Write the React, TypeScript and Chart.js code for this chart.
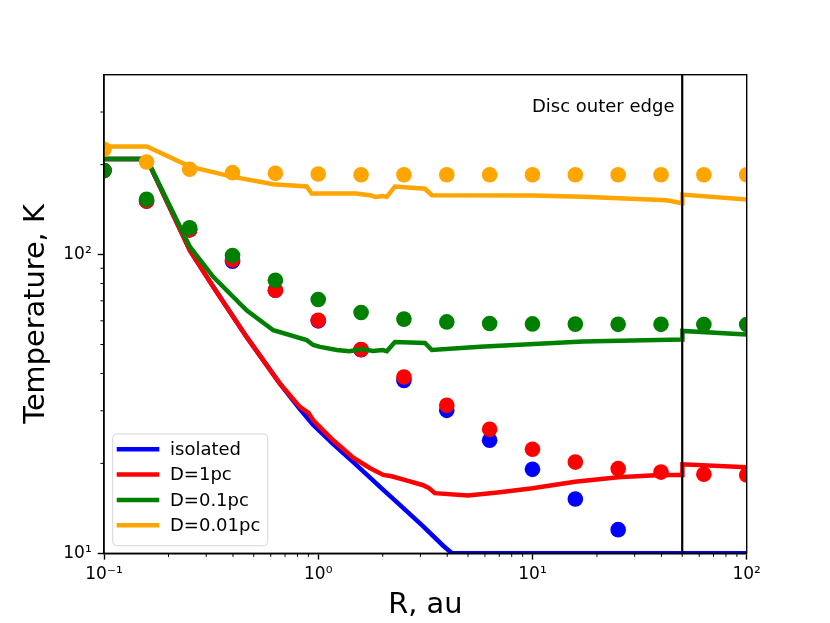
import { useEffect, useRef } from "react";
import { Chart, registerables } from "chart.js";
import type { Plugin } from "chart.js";

Chart.register(...registerables);

const FONT = "'DejaVu Sans', 'Liberation Sans', sans-serif";

// model radii for the dots (au)
const dotR = [0.1, 0.158, 0.251, 0.398, 0.631, 1, 1.585, 2.512, 3.981, 6.31, 10, 15.85, 25.12, 39.81, 63.1, 100];
const isolatedDots = [191, 151, 121, 95, 76, 60, 48, 37.9, 30.1, 23.9, 19.1, 15.2, 12.0, null, null, null];
const d1Dots = [191, 151, 121, 96, 76, 60.3, 48.1, 38.9, 31.3, 26.0, 22.3, 20.2, 19.2, 18.7, 18.4, 18.3];
const d01Dots = [191, 153, 123, 99.2, 82, 70.7, 64.0, 60.8, 59.5, 58.8, 58.6, 58.5, 58.4, 58.4, 58.3, 58.3];
const d001Dots = [225, 204, 193, 188, 187, 186, 185, 185, 185, 185, 185, 185, 185, 185, 185, 185];

// line profiles
const isolatedR = [0.1, 0.1585, 0.252, 0.3235, 0.463, 0.662, 0.821, 0.948, 1.175, 1.457, 2.012, 2.41, 3.09, 3.83, 4.21, 100];
const isolatedT = [209, 209, 103, 78, 53, 37, 30.4, 26.9, 23.2, 20.2, 16.3, 14.5, 12.3, 10.6, 10, 10];

const d1R = [0.1, 0.1585, 0.252, 0.3235, 0.463, 0.662, 0.821, 0.9, 0.948, 1.0, 1.175, 1.457, 1.74, 2.012, 2.2, 2.6, 3.09, 3.3, 3.5, 5.0, 7.05, 10, 15.8, 25.1, 39.4, 49.9, 50.1, 100];
const d1T = [209, 209, 103, 78, 53, 37, 30.9, 29.5, 27.9, 26.8, 23.9, 20.9, 19.3, 18.3, 18.1, 17.5, 16.9, 16.5, 15.9, 15.6, 16.0, 16.5, 17.35, 17.96, 18.3, 18.3, 19.86, 19.4];

const d01R = [0.1, 0.1585, 0.252, 0.3235, 0.463, 0.617, 0.883, 0.948, 1.02, 1.22, 1.4, 1.6, 1.8, 2.0, 2.09, 2.28, 3.15, 3.39, 5.69, 17.2, 49.9, 50.1, 100];
const d01T = [209, 209, 106, 84.2, 65.1, 55.8, 51.7, 49.8, 49.1, 47.9, 47.5, 48.3, 47.6, 47.9, 47.5, 51.0, 50.6, 47.9, 49.1, 51.2, 52.0, 55.5, 54.0];

const d001R = [0.1, 0.1585, 0.252, 0.4, 0.617, 0.883, 0.932, 1.5, 1.74, 1.85, 2.0, 2.09, 2.28, 3.15, 3.39, 10, 17.2, 42.4, 49.9, 50.1, 100];
const d001T = [230, 230, 197, 182, 172, 169, 160, 160, 158, 156, 157, 156, 169, 166, 158, 157.5, 156, 152, 148.6, 158.8, 152.8];

const discR = [50, 50];
const discT = [10, 400];

const seriesLabels = ["isolated", "D=1pc", "D=0.1pc", "D=0.01pc"];
const seriesColors = ["#0000ff", "#ff0000", "#008000", "#ffa500"];

const xTickValues = [0.1, 1, 10, 100];
const xTickLabels = ["10\u207B\u00B9", "10\u2070", "10\u00B9", "10\u00B2"];
const xMinorTicks = [0.2, 0.3, 0.4, 0.5, 0.6, 0.7, 0.8, 0.9, 2, 3, 4, 5, 6, 7, 8, 9, 20, 30, 40, 50, 60, 70, 80, 90];
const yTickValues = [10, 100];
const yTickLabels = ["10\u00B9", "10\u00B2"];
const yMinorTicks = [20, 30, 40, 50, 60, 70, 80, 90, 200, 300];

function pts(xs: number[], ys: (number | null)[]) {
  return xs.map((x, i) => ({ x, y: ys[i] }));
}

const overlay: Plugin = {
  id: "overlay",
  afterDatasetsDraw(chart) {
    const { ctx, chartArea: a, scales } = chart;
    ctx.save();
    ctx.strokeStyle = "#000";
    ctx.lineWidth = 1;
    ctx.beginPath();
    for (const v of xMinorTicks) {
      const px = scales.x.getPixelForValue(v);
      ctx.moveTo(px, a.bottom);
      ctx.lineTo(px, a.bottom + 3.6);
    }
    for (const v of yMinorTicks) {
      const py = scales.y.getPixelForValue(v);
      ctx.moveTo(a.left - 3.6, py);
      ctx.lineTo(a.left, py);
    }
    ctx.stroke();
    ctx.lineWidth = 1.4;
    ctx.strokeRect(a.left, a.top, a.right - a.left, a.bottom - a.top);
    ctx.restore();
  },
  afterDraw(chart) {
    const { ctx, chartArea: a, scales } = chart;
    ctx.save();
    // annotation
    ctx.font = `18px ${FONT}`;
    ctx.fillStyle = "#000";
    ctx.textAlign = "right";
    ctx.textBaseline = "alphabetic";
    ctx.fillText("Disc outer edge", scales.x.getPixelForValue(46), scales.y.getPixelForValue(300));

    // legend, lower left
    const bw = 155;
    const bh = 111.7;
    const bx = a.left + 8.7;
    const by = a.bottom - 7.6 - bh;
    ctx.beginPath();
    ctx.roundRect(bx, by, bw, bh, 4);
    ctx.fillStyle = "rgba(255,255,255,0.8)";
    ctx.fill();
    ctx.strokeStyle = "rgba(204,204,204,0.8)";
    ctx.lineWidth = 1;
    ctx.stroke();
    ctx.textAlign = "left";
    ctx.textBaseline = "middle";
    seriesLabels.forEach((label, i) => {
      const cy = by + 15.3 + i * 25.3;
      ctx.strokeStyle = seriesColors[i];
      ctx.lineWidth = 4.5;
      ctx.beginPath();
      ctx.moveTo(bx + 4, cy);
      ctx.lineTo(bx + 46.6, cy);
      ctx.stroke();
      ctx.fillStyle = "#000";
      ctx.fillText(label, bx + 57.3, cy + 1);
    });
    ctx.restore();
  },
};

export default function App() {
  const canvasRef = useRef<HTMLCanvasElement | null>(null);
  const chartRef = useRef<Chart | null>(null);

  useEffect(() => {
    const canvas = canvasRef.current;
    if (!canvas) return;

    const lineSets = [
      [isolatedR, isolatedT],
      [d1R, d1T],
      [d01R, d01T],
      [d001R, d001T],
    ];
    const dotSets = [isolatedDots, d1Dots, d01Dots, d001Dots];

    const datasets: any[] = [];
    seriesLabels.forEach((label, i) => {
      // lower order is drawn on top; later series go over earlier ones
      datasets.push({
        label,
        data: pts(lineSets[i][0], lineSets[i][1]),
        showLine: true,
        borderColor: seriesColors[i],
        backgroundColor: seriesColors[i],
        borderWidth: 4.5,
        pointRadius: 0,
        tension: 0,
        clip: 0,
        order: 10 - i * 2,
      });
      datasets.push({
        label: label + " dots",
        data: pts(dotR, dotSets[i]),
        showLine: false,
        backgroundColor: seriesColors[i],
        borderColor: seriesColors[i],
        borderWidth: 0,
        pointRadius: 7.8,
        clip: 0,
        order: 9 - i * 2,
      });
    });
    datasets.push({
      label: "disc edge",
      data: pts(discR, discT),
      showLine: true,
      borderColor: "#000",
      borderWidth: 2.2,
      pointRadius: 0,
      clip: 0,
      order: 0,
    });

    if (chartRef.current) chartRef.current.destroy();

    chartRef.current = new Chart(canvas, {
      type: "scatter",
      data: { datasets },
      options: {
        animation: false,
        responsive: true,
        maintainAspectRatio: false,
        layout: { padding: { left: 0, top: 74.7, right: 83.3, bottom: 0 } },
        plugins: { legend: { display: false }, tooltip: { enabled: false } },
        scales: {
          x: {
            type: "logarithmic",
            min: 0.1,
            max: 100,
            afterFit: (s: any) => {
              s.height = 69.7;
            },
            afterBuildTicks: (s: any) => {
              s.ticks = xTickValues.map((v) => ({ value: v }));
            },
            ticks: {
              callback: (_v: any, i: number) => xTickLabels[i],
              font: { family: FONT, size: 17 },
              color: "#000",
              padding: 5,
              maxRotation: 0,
              autoSkip: false,
            },
            grid: { display: true, drawOnChartArea: false, drawTicks: true, tickLength: 6.3, tickWidth: 1.4, tickColor: "#000" },
            border: { display: true, color: "#000", width: 1.4 },
            title: {
              display: true,
              text: "R, au",
              color: "#000",
              font: { family: FONT, size: 28.8, lineHeight: 1 },
              padding: { top: 0, bottom: 3 },
            },
          },
          y: {
            type: "logarithmic",
            min: 10,
            max: 400,
            afterFit: (s: any) => {
              s.width = 104;
            },
            afterBuildTicks: (s: any) => {
              s.ticks = yTickValues.map((v) => ({ value: v }));
            },
            ticks: {
              callback: (_v: any, i: number) => yTickLabels[i],
              font: { family: FONT, size: 17 },
              color: "#000",
              padding: 6,
              autoSkip: false,
            },
            grid: { display: true, drawOnChartArea: false, drawTicks: true, tickLength: 6.3, tickWidth: 1.4, tickColor: "#000" },
            border: { display: true, color: "#000", width: 1.4 },
            title: {
              display: true,
              text: "Temperature, K",
              color: "#000",
              font: { family: FONT, size: 28.8, lineHeight: 1 },
              padding: { top: 22.6, bottom: 0 },
            },
          },
        },
      },
      plugins: [overlay],
    });

    return () => {
      if (chartRef.current) {
        chartRef.current.destroy();
        chartRef.current = null;
      }
    };
  }, []);

  return (
    <div style={{ position: "fixed", left: 0, top: 0, width: 830, height: 623, background: "#fff" }}>
      <canvas ref={canvasRef} />
    </div>
  );
}
